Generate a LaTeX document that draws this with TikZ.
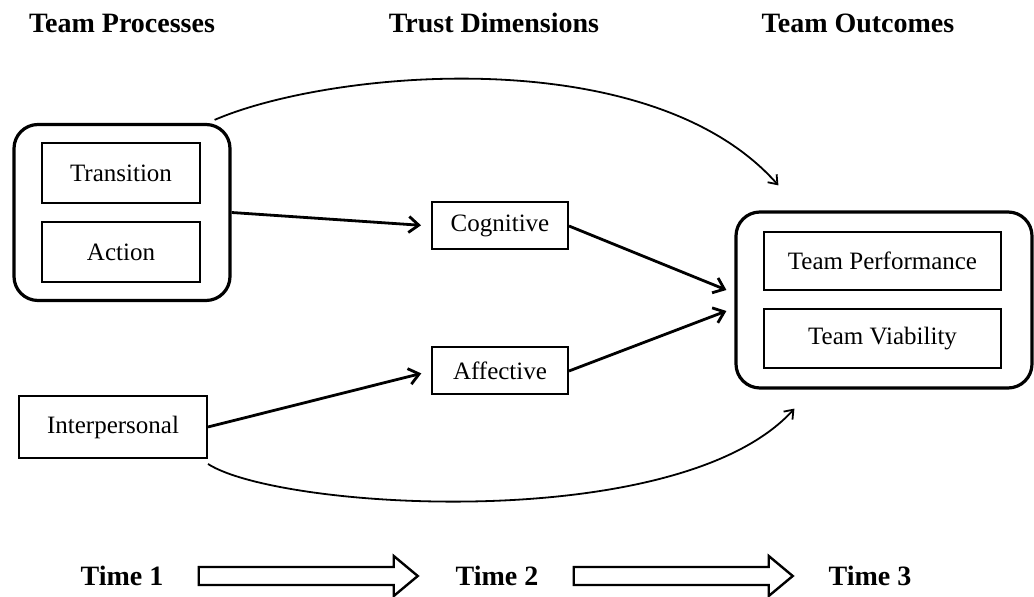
\documentclass[tikz,border=0pt]{standalone}
\usepackage{fontspec}
\setmainfont{Liberation Serif}
\usetikzlibrary{positioning,arrows.meta,calc}

\begin{document}
\begin{tikzpicture}[x=0.5pt,y=-0.5pt,font=\fontsize{12.5}{14}\selectfont,
  blk/.style={draw,line width=1pt,align=center,inner sep=0pt},
  grp/.style={draw,line width=1.6pt,rounded corners=12pt,inner sep=0pt},
  lab/.style={font=\fontsize{14}{16}\selectfont\bfseries,inner sep=0pt},
  wire/.style={-{Straight Barb[length=5pt,width=8pt]},line width=1.4pt},
  curve/.style={-{Straight Barb[length=4pt,width=6pt]},line width=0.9pt},
  fat/.style={draw,line width=1.2pt,fill=white,line join=miter}]
\useasboundingbox (0,0) rectangle (1034,597);
% column headers
\node[lab] (hproc) at (122,23) {Team Processes};
\node[lab] (htrust) at (494,23) {Trust Dimensions};
\node[lab] (hout) at (858,23) {Team Outcomes};
% team processes
\node[grp,minimum width=108pt,minimum height=88pt] (procs) at (122,212.5) {};
\node[blk,minimum width=79pt,minimum height=30pt] (trans) at (121,173) {Transition};
\node[blk,minimum width=79pt,minimum height=30pt] (action) at (121,252) {Action};
\node[blk,minimum width=94pt,minimum height=31pt] (inter) at (113,427) {Interpersonal};
% trust dimensions
\node[blk,minimum width=68pt,minimum height=23.5pt] (cog) at (500,226) {Cognitive};
\node[blk,minimum width=68pt,minimum height=23.5pt] (aff) at (500,371) {Affective};
% team outcomes
\node[grp,minimum width=148pt,minimum height=88pt] (outs) at (884,300) {};
\node[blk,minimum width=118.5pt,minimum height=29pt] (perf) at (882.5,261) {Team Performance};
\node[blk,minimum width=118.5pt,minimum height=29.5pt] (viab) at (882.5,338.5) {Team Viability};
\coordinate (in1) at ($(outs.west)+(-8,-10)$);
\coordinate (in2) at ($(outs.west)+(-8,11)$);
\coordinate (intop) at ($(outs.north west)+(44,-25)$);
\coordinate (inbot) at ($(outs.south west)+(60,19)$);
% paths
\draw[wire,shorten >=5pt] (procs.east) -- (cog.west);
\draw[wire,shorten >=5pt] (inter.east) -- (aff.west);
\draw[wire] (cog.east) -- (in1);
\draw[wire] (aff.east) -- (in2);
\draw[curve] ($(procs.north east)+(-17,-3)$) .. controls (330,70) and (650,40) .. (intop);
\draw[curve] ($(inter.south east)+(0,5)$) .. controls (280,510) and (680,535) .. (inbot);
% time line
\node[lab] (t1) at (122,576) {Time 1};
\node[lab] (t2) at (497,576) {Time 2};
\node[lab] (t3) at (870,576) {Time 3};
\foreach \t in {t1,t2}
  \draw[fat] ($(\t.east)+(35,-9)$) -- ++(195,0) -- ++(0,-11) -- ++(24,20)
    -- ++(-24,20) -- ++(0,-11) -- ++(-195,0) -- cycle;
\end{tikzpicture}
\end{document}
